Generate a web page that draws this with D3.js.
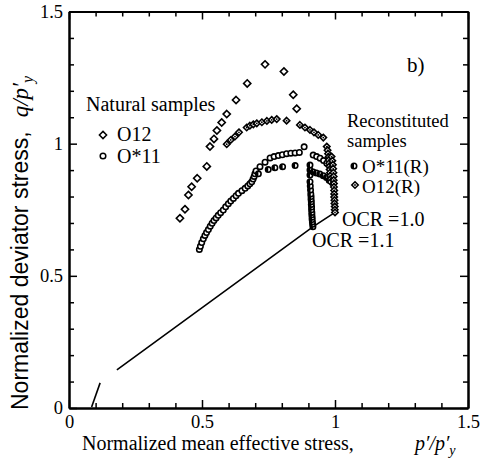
<!DOCTYPE html>
<html>
<head>
<meta charset="utf-8">
<script src="https://cdn.jsdelivr.net/npm/d3@7"></script>
<style>
  html, body { margin: 0; padding: 0; background: #fff; }
  svg { display: block; }
  .serif { font-family: "Liberation Serif", "Times New Roman", serif; }
  .sans { font-family: "Liberation Sans", Arial, sans-serif; }
</style>
</head>
<body>
<svg id="chart" width="492" height="470"></svg>
<script>
// Axis ticks and labels
const xMajorTicks = [0, 0.5, 1, 1.5];
const yMajorTicks = [0, 0.5, 1, 1.5];
const xTickLabels = ["0", "0.5", "1", "1.5"];
const yTickLabels = ["0", "0.5", "1", "1.5"];
const minorTicks = [0.1, 0.2, 0.3, 0.4, 0.6, 0.7, 0.8, 0.9, 1.1, 1.2, 1.3, 1.4];

// Natural sample O12 (diamonds): [p'/p'y, q/p'y]
const o12Natural = [
  [0.417, 0.718], [0.436, 0.752], [0.449, 0.806], [0.461, 0.837], [0.482, 0.869],
  [0.518, 0.914], [0.530, 0.989], [0.545, 1.018], [0.556, 1.050], [0.574, 1.080],
  [0.593, 1.112], [0.628, 1.165], [0.670, 1.228], [0.737, 1.300], [0.808, 1.273],
  [0.843, 1.185], [0.856, 1.132]
];

// Natural sample O*11 (circles)
const o11Natural = [
  [0.490, 0.600], [0.494, 0.612], [0.499, 0.626], [0.505, 0.640], [0.511, 0.653],
  [0.517, 0.664], [0.524, 0.675], [0.531, 0.688], [0.538, 0.699], [0.545, 0.709],
  [0.553, 0.719], [0.561, 0.729], [0.570, 0.739], [0.580, 0.749], [0.589, 0.761],
  [0.599, 0.773], [0.608, 0.783], [0.618, 0.793], [0.628, 0.803], [0.637, 0.812],
  [0.650, 0.822], [0.662, 0.831], [0.672, 0.840], [0.680, 0.848], [0.687, 0.856],
  [0.692, 0.866], [0.696, 0.876], [0.699, 0.886], [0.703, 0.897], [0.718, 0.913],
  [0.737, 0.930], [0.756, 0.946], [0.771, 0.951], [0.787, 0.955], [0.802, 0.958],
  [0.818, 0.962], [0.834, 0.964], [0.850, 0.965], [0.866, 0.967], [0.884, 0.988],
  [0.918, 0.957], [0.931, 0.951], [0.944, 0.945], [0.957, 0.936], [0.969, 0.926]
];

// Reconstituted O*11(R), OCR = 1.1 (half-filled circles)
const o11Recon = [
  [0.917, 0.686], [0.916, 0.695], [0.915, 0.704], [0.914, 0.713], [0.914, 0.722],
  [0.913, 0.731], [0.913, 0.740], [0.912, 0.750], [0.912, 0.760], [0.911, 0.770],
  [0.911, 0.780], [0.910, 0.790], [0.910, 0.800], [0.909, 0.810], [0.908, 0.825],
  [0.907, 0.840], [0.906, 0.856], [0.906, 0.881], [0.906, 0.900], [0.906, 0.919],
  [0.712, 0.886], [0.749, 0.902], [0.774, 0.909], [0.803, 0.913], [0.850, 0.917],
  [0.918, 0.893], [0.930, 0.889], [0.943, 0.885], [0.956, 0.879], [0.968, 0.872],
  [0.978, 0.862]
];

// Reconstituted O12(R), OCR = 1.0 (dotted diamonds)
const o12Recon = [
  [0.593, 0.998], [0.608, 1.014], [0.624, 1.027], [0.639, 1.043], [0.668, 1.061],
  [0.680, 1.068], [0.693, 1.073], [0.706, 1.077], [0.725, 1.081], [0.744, 1.086],
  [0.762, 1.090], [0.781, 1.093], [0.818, 1.087], [0.868, 1.071], [0.887, 1.061],
  [0.906, 1.052], [0.921, 1.043], [0.937, 1.033], [0.956, 1.023], [0.969, 0.989],
  [0.972, 0.975], [0.974, 0.962], [0.976, 0.950], [0.977, 0.938], [0.978, 0.926],
  [0.979, 0.914], [0.980, 0.902], [0.981, 0.890], [0.982, 0.878], [0.983, 0.866],
  [0.984, 0.855], [0.987, 0.951], [0.990, 0.935], [0.992, 0.920], [0.993, 0.905],
  [0.994, 0.890], [0.995, 0.876], [0.995, 0.862], [0.996, 0.849], [0.996, 0.836],
  [0.997, 0.823], [0.997, 0.810], [0.997, 0.798], [0.998, 0.786], [0.998, 0.774],
  [0.999, 0.762], [0.999, 0.750], [1.000, 0.740]
];

// Consolidation stress path (drawn as lines)
const consolidationLow = [[0.085, 0.004], [0.117, 0.095]];
const consolidationPath = [[0.180, 0.144], [0.918, 0.686], [1.000, 0.740]];

const svg = d3.select("#chart");
const x = d3.scaleLinear().domain([0, 1.5]).range([69, 468]);
const y = d3.scaleLinear().domain([0, 1.5]).range([408, 11.5]);

// ---- frame and ticks (all ticks point inward) ----
function styleAxis(g) {
  g.select(".domain").attr("stroke", "#000").attr("stroke-width", 2);
  g.selectAll(".tick line").attr("stroke", "#000").attr("stroke-width", 1.5);
  g.selectAll("text").attr("class", "serif").attr("font-size", 18.5).attr("fill", "#000");
}
const fmtX = d => xTickLabels[xMajorTicks.indexOf(d)];
const fmtY = d => yTickLabels[yMajorTicks.indexOf(d)];

svg.append("g").attr("transform", `translate(0,${y(0)})`)
  .call(d3.axisBottom(x).tickValues(xMajorTicks).tickFormat(fmtX).tickSizeInner(-8).tickSizeOuter(0).tickPadding(7))
  .call(styleAxis);
svg.append("g").attr("transform", `translate(0,${y(0)})`)
  .call(d3.axisBottom(x).tickValues(minorTicks).tickFormat("").tickSizeInner(-5).tickSizeOuter(0))
  .call(styleAxis);
svg.append("g").attr("transform", `translate(0,${y(1.5)})`)
  .call(d3.axisTop(x).tickValues(xMajorTicks).tickFormat("").tickSizeInner(-8).tickSizeOuter(0))
  .call(styleAxis);
svg.append("g").attr("transform", `translate(0,${y(1.5)})`)
  .call(d3.axisTop(x).tickValues(minorTicks).tickFormat("").tickSizeInner(-5).tickSizeOuter(0))
  .call(styleAxis);
svg.append("g").attr("transform", `translate(${x(0)},0)`)
  .call(d3.axisLeft(y).tickValues(yMajorTicks).tickFormat(fmtY).tickSizeInner(-8).tickSizeOuter(0).tickPadding(6))
  .call(styleAxis);
svg.append("g").attr("transform", `translate(${x(0)},0)`)
  .call(d3.axisLeft(y).tickValues(minorTicks).tickFormat("").tickSizeInner(-5).tickSizeOuter(0))
  .call(styleAxis);
svg.append("g").attr("transform", `translate(${x(1.5)},0)`)
  .call(d3.axisRight(y).tickValues(yMajorTicks).tickFormat("").tickSizeInner(-8).tickSizeOuter(0))
  .call(styleAxis);
svg.append("g").attr("transform", `translate(${x(1.5)},0)`)
  .call(d3.axisRight(y).tickValues(minorTicks).tickFormat("").tickSizeInner(-5).tickSizeOuter(0))
  .call(styleAxis);

// ---- consolidation path ----
const line = d3.line().x(d => x(d[0])).y(d => y(d[1]));
[consolidationLow, consolidationPath].forEach(seg => {
  svg.append("path").attr("d", line(seg))
    .attr("fill", "none").attr("stroke", "#000").attr("stroke-width", 1.6);
});

// ---- markers ----
// square diamond (a square turned 45 degrees); r is the half-diagonal
const squareDiamond = r => ({
  draw(ctx) {
    ctx.moveTo(0, -r); ctx.lineTo(r, 0); ctx.lineTo(0, r); ctx.lineTo(-r, 0); ctx.closePath();
  }
});
const diamond = d3.symbol().type(squareDiamond(3.6));
const diamondSmall = d3.symbol().type(squareDiamond(3.2));

function drawDiamonds(data, sym) {
  svg.append("g").selectAll("path").data(data).join("path")
    .attr("d", sym)
    .attr("transform", d => `translate(${x(d[0])},${y(d[1])})`)
    .attr("fill", "#fff").attr("stroke", "#000").attr("stroke-width", 1.6);
}
function drawCircles(data) {
  svg.append("g").selectAll("circle").data(data).join("circle")
    .attr("cx", d => x(d[0])).attr("cy", d => y(d[1])).attr("r", 2.7)
    .attr("fill", "#fff").attr("stroke", "#000").attr("stroke-width", 1.6);
}
function halfCircle(g, cx, cy) {
  g.append("circle").attr("cx", cx).attr("cy", cy).attr("r", 2.7)
    .attr("fill", "#fff").attr("stroke", "#000").attr("stroke-width", 1.6);
  g.append("path")
    .attr("d", `M${cx},${cy - 2.7} A2.7,2.7 0 0,0 ${cx},${cy + 2.7} Z`)
    .attr("fill", "#000");
}
function dotDiamond(g, cx, cy) {
  g.append("path").attr("d", diamondSmall())
    .attr("transform", `translate(${cx},${cy})`)
    .attr("fill", "#fff").attr("stroke", "#000").attr("stroke-width", 1.6);
  g.append("circle").attr("cx", cx).attr("cy", cy).attr("r", 0.9).attr("fill", "#000");
}

drawDiamonds(o12Natural, diamond);
drawCircles(o11Natural);
const gR11 = svg.append("g");
o11Recon.forEach(d => halfCircle(gR11, x(d[0]), y(d[1])));
const gR12 = svg.append("g");
o12Recon.forEach(d => dotDiamond(gR12, x(d[0]), y(d[1])));

// ---- annotations ----
const txt = (tx, ty, s, size = 20) =>
  svg.append("text").attr("class", "serif").attr("x", tx).attr("y", ty)
    .attr("font-size", size).attr("fill", "#000").text(s);

txt(407, 72, "b)", 21);
txt(86, 111, "Natural samples");
svg.append("path").attr("d", diamond()).attr("transform", "translate(103,135)")
  .attr("fill", "#fff").attr("stroke", "#000").attr("stroke-width", 1.5);
txt(117, 141, "O12");
svg.append("circle").attr("cx", 103).attr("cy", 156).attr("r", 2.8)
  .attr("fill", "#fff").attr("stroke", "#000").attr("stroke-width", 1.5);
txt(117, 163, "O*11");

txt(347, 127, "Reconstituted", 18.5);
txt(347, 147, "samples", 18.5);
halfCircle(svg.append("g"), 354, 166);
txt(362, 173, "O*11(R)", 19);
dotDiamond(svg.append("g"), 355, 185);
txt(362, 193, "O12(R)", 19);

txt(342, 226, "OCR =1.0");
txt(312, 247, "OCR =1.1");

// ---- axis titles ----
const xt = svg.append("text").attr("class", "serif").attr("x", 82).attr("y", 450)
  .attr("font-size", 20).attr("fill", "#000");
xt.append("tspan").text("Normalized mean effective stress,");
xt.append("tspan").attr("x", 415).attr("font-style", "italic").text("p\u2032/p\u2032");
xt.append("tspan").attr("font-style", "italic").attr("font-size", 14).attr("dy", 5).text("y");

const yt = svg.append("text").attr("transform", "translate(28,410) rotate(-90)")
  .attr("font-size", 23).attr("fill", "#000");
yt.append("tspan").attr("class", "sans").text("Normalized deviator stress,");
yt.append("tspan").attr("class", "serif").attr("font-style", "italic").attr("dx", 14).text("q/p\u2032");
yt.append("tspan").attr("class", "serif").attr("font-style", "italic").attr("font-size", 16).attr("dy", 5).text("y");
</script>
</body>
</html>
